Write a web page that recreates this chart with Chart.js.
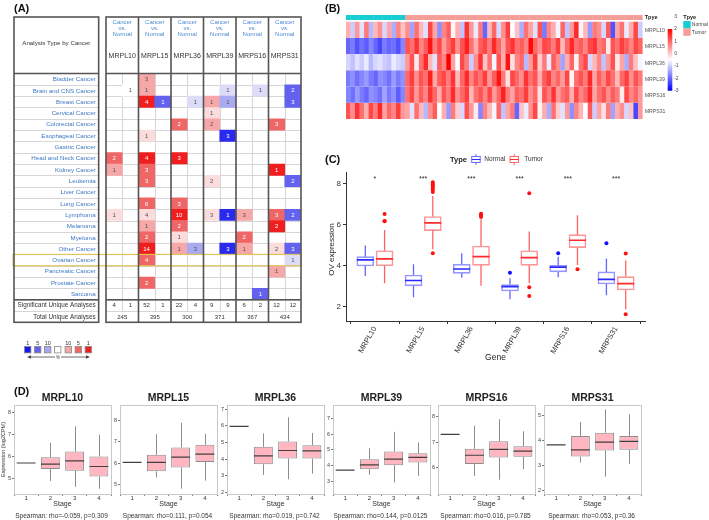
<!DOCTYPE html>
<html><head><meta charset="utf-8">
<script src="https://cdn.jsdelivr.net/npm/chart.js@4/dist/chart.umd.min.js"></script>
<style>
html,body{margin:0;padding:0;background:#fff;}
body{width:709px;height:520px;position:relative;overflow:hidden;font-family:"Liberation Sans",Arial,sans-serif;}
canvas{position:absolute;}
.lbl{position:absolute;font-weight:bold;font-size:11px;color:#111;line-height:11px;z-index:5;}
</style></head><body>
<canvas id="cA" width="340" height="372" style="left:0;top:0"></canvas>
<canvas id="cB" width="369" height="150" style="left:340px;top:0"></canvas>
<canvas id="cC" width="340" height="220" style="left:320px;top:150px"></canvas>
<canvas id="d0" width="114" height="132" style="left:0;top:388px"></canvas>
<canvas id="d1" width="114" height="132" style="left:106px;top:388px"></canvas>
<canvas id="d2" width="114" height="132" style="left:213px;top:388px"></canvas>
<canvas id="d3" width="114" height="132" style="left:319px;top:388px"></canvas>
<canvas id="d4" width="114" height="132" style="left:424px;top:388px"></canvas>
<canvas id="d5" width="114" height="132" style="left:530px;top:388px"></canvas>
<div class="lbl" style="left:14px;top:3px">(A)</div>
<div class="lbl" style="left:325px;top:3px">(B)</div>
<div class="lbl" style="left:325px;top:154px">(C)</div>
<div class="lbl" style="left:14px;top:386px">(D)</div>
<script>
// ================= DATA =================
// ---- Panel A (Oncomine summary) ----
const cancers = ['Bladder Cancer','Brain and CNS Cancer','Breast Cancer','Cervical Cancer','Colorectal Cancer','Esophageal Cancer','Gastric Cancer','Head and Neck Cancer','Kidney Cancer','Leukemia','Liver Cancer','Lung Cancer','Lymphoma','Melanoma','Myeloma','Other Cancer','Ovarian Cancer','Pancreatic Cancer','Prostate Cancer','Sarcoma'];
const genes = ['MRPL10','MRPL15','MRPL36','MRPL39','MRPS16','MRPS31'];
const mrpl10Up     = [0,0,0,0,0,0,0,2,1,0,0,0,1,0,0,0,0,0,0,0];
const mrpl10UpLv   = [0,0,0,0,0,0,0,3,2,0,0,0,1,0,0,0,0,0,0,0];
const mrpl10Down   = [0,1,0,0,0,0,0,0,0,0,0,0,0,0,0,0,0,0,0,0];
const mrpl10DownLv = [0,0,0,0,0,0,0,0,0,0,0,0,0,0,0,0,0,0,0,0];
const mrpl15Up     = [3,1,4,0,0,1,0,4,3,3,0,6,4,1,2,14,4,0,2,0];
const mrpl15UpLv   = [2,2,4,0,0,1,0,4,3,3,0,3,1,2,3,4,3,0,3,0];
const mrpl15Down   = [0,0,1,0,0,0,0,0,0,0,0,0,0,0,0,0,0,0,0,0];
const mrpl15DownLv = [0,0,3,0,0,0,0,0,0,0,0,0,0,0,0,0,0,0,0,0];
const mrpl36Up     = [0,0,0,0,2,0,0,3,0,0,0,3,10,2,1,1,0,0,0,0];
const mrpl36UpLv   = [0,0,0,0,3,0,0,4,0,0,0,3,4,3,1,2,0,0,0,0];
const mrpl36Down   = [0,0,1,0,0,0,0,0,0,0,0,0,0,0,0,3,0,0,0,0];
const mrpl36DownLv = [0,0,1,0,0,0,0,0,0,0,0,0,0,0,0,2,0,0,0,0];
const mrpl39Up     = [0,0,1,1,2,0,0,0,0,2,0,0,3,0,0,0,0,0,0,0];
const mrpl39UpLv   = [0,0,2,1,2,0,0,0,0,1,0,0,1,0,0,0,0,0,0,0];
const mrpl39Down   = [0,1,1,0,0,3,0,0,0,0,0,0,1,0,0,3,0,0,0,0];
const mrpl39DownLv = [0,1,2,0,0,4,0,0,0,0,0,0,4,0,0,4,0,0,0,0];
const mrps16Up     = [0,0,0,0,0,0,0,0,0,0,0,0,3,0,2,1,0,0,0,0];
const mrps16UpLv   = [0,0,0,0,0,0,0,0,0,0,0,0,2,0,3,2,0,0,0,0];
const mrps16Down   = [0,1,0,0,0,0,0,0,0,0,0,0,0,0,0,0,0,0,0,1];
const mrps16DownLv = [0,1,0,0,0,0,0,0,0,0,0,0,0,0,0,0,0,0,0,3];
const mrps31Up     = [0,0,0,0,3,0,0,0,1,0,0,0,3,2,0,2,0,1,0,0];
const mrps31UpLv   = [0,0,0,0,3,0,0,0,4,0,0,0,3,4,0,1,0,2,0,0];
const mrps31Down   = [0,2,3,0,0,0,0,0,0,2,0,0,2,0,0,3,1,0,0,0];
const mrps31DownLv = [0,3,3,0,0,0,0,0,0,3,0,0,3,0,0,3,1,0,0,0];
const sigUnique   = [4,1,52,1,22,4,9,9,6,2,12,12];
const totalUnique = [245,395,300,371,367,434];
const highlightCancer = 'Ovarian Cancer';

// ---- Panel B (heatmap, z-scores) ----
const hmGenes = ['MRPL10','MRPL15','MRPL36','MRPL39','MRPS16','MRPS31'];
const hmMRPL10Normal = [0.3,-1.0,0.5,-0.8,0.8,-1.2,0.2,0.6,-0.9,0.4,-1.3,0.7,0.1];
const hmMRPL10Tumor  = [0.6,-1.4,0.9,0.2,-0.8,1.3,0.4,-1.6,0.7,1.1,-0.4,0.3,-1.1,1.5,0.5,-0.7,0.8,-2.0,0.2,1.0,-0.9,0.6,1.4,-0.5,0.1,-1.3,0.9,0.4,-0.8,1.2,-1.8,0.7,0.3,-0.6,1.0,-1.1,0.5,1.6,-0.4,0.2,-1.5,0.8,0.6,-0.9,1.1,-2.2,0.4,0.9,-0.7,0.3,1.3,-1.0];
const hmMRPL15Normal = [-2.0,-1.8,-2.2,-1.9,-2.1,-1.7,-2.0,-2.3,-1.8,-2.0,-1.9,-2.2,-1.7];
const hmMRPL15Tumor  = [1.2,0.9,1.5,0.7,1.1,1.8,0.8,1.3,0.5,1.0,1.4,0.6,1.2,1.7,0.9,0.3,1.1,1.3,0.8,1.6,1.0,0.4,1.2,1.5,0.9,1.1,0.7,1.9,1.0,0.6,1.3,1.2,0.8,1.4,0.2,1.0,1.6,0.9,1.1,0.7,1.3,1.5,0.8,1.0,-0.3,1.2,0.9,1.4,1.1,0.7,1.3,1.0];
const hmMRPL36Normal = [-0.9,-1.1,-0.8,-1.0,-0.7,-1.2,-0.9,-0.8,-1.0,-1.1,-0.7,-0.9,-1.0];
const hmMRPL36Tumor  = [0.5,1.2,-0.3,0.9,1.6,0.2,-0.8,1.1,0.7,2.0,0.4,-0.5,1.3,0.8,-1.0,0.6,1.5,0.1,0.9,-0.6,1.2,0.3,1.8,-0.2,0.7,1.0,-1.2,0.5,1.4,0.0,0.8,-0.7,1.1,0.6,-1.4,0.3,1.0,-0.4,0.9,1.3,-0.9,0.2,0.7,-1.1,0.5,1.2,-0.3,0.4,-1.3,0.8,0.1,-0.6];
const hmMRPL39Normal = [-1.8,-1.6,-1.9,-1.7,-1.5,-1.8,-2.0,-1.6,-1.7,-1.9,-1.5,-1.8,-1.6];
const hmMRPL39Tumor  = [1.0,1.4,0.6,1.2,0.9,1.7,0.4,1.1,1.3,0.8,1.5,0.2,1.0,1.6,0.7,1.2,0.9,1.4,0.5,1.1,1.8,0.8,-0.2,1.3,1.0,0.6,1.5,0.9,1.2,0.3,1.1,1.4,0.7,1.0,0.5,1.3,-0.4,0.9,1.2,0.8,1.6,0.4,1.1,0.7,1.3,0.9,0.2,1.0,1.4,0.6,1.2,0.8];
const hmMRPS16Normal = [-1.7,-1.9,-1.5,-1.8,-2.0,-1.6,-1.7,-1.9,-1.4,-1.8,-1.6,-2.1,-1.7];
const hmMRPS16Tumor  = [0.9,1.3,0.5,1.1,0.7,1.5,1.0,0.3,1.2,0.8,1.6,0.6,1.0,1.4,0.2,0.9,1.2,0.7,1.3,0.5,1.0,1.7,0.8,0.4,1.1,0.9,1.4,0.6,1.0,-0.2,1.2,0.8,1.5,0.5,0.9,1.1,0.3,1.3,0.7,1.0,1.6,0.4,0.9,1.2,0.6,1.1,0.8,-0.3,1.3,0.7,1.0,0.5];
const hmMRPS31Normal = [1.2,0.6,1.5,0.9,0.3,1.3,0.8,1.6,0.4,1.0,0.7,1.4,0.5];
const hmMRPS31Tumor  = [0.4,-0.8,0.9,0.2,-1.2,0.6,1.1,-0.5,0.3,-1.5,0.8,0.0,-0.9,1.2,0.5,-0.3,-1.7,0.7,0.2,-0.6,1.0,-1.1,0.4,0.8,-2.0,0.1,-0.7,0.6,1.3,-0.4,0.3,-1.3,0.9,0.0,-0.8,0.5,-1.6,0.7,0.2,-0.5,1.1,-1.0,0.4,-0.2,0.8,-1.4,0.3,0.6,-0.9,0.1,-2.3,0.5];
const hmScaleTicks = [3,2,1,0,-1,-2,-3];

// ---- Panel C (tumor vs normal boxplots) ----
const cNormLo  = [3.49,2.46,3.41,2.36,3.43,2.55];
const cNormQ1  = [3.98,3.01,3.62,2.76,3.69,3.10];
const cNormMed = [4.27,3.27,3.83,2.97,3.92,3.33];
const cNormQ3  = [4.43,3.54,4.06,3.07,4.01,3.69];
const cNormHi  = [4.97,4.06,4.60,3.38,4.43,4.34];
const cNormOutGene = [4,5,6];
const cNormOutVal  = [3.65,4.60,5.08];
const cTumLo  = [3.14,4.79,3.01,3.14,4.03,1.87];
const cTumQ1  = [3.99,5.70,4.01,4.01,4.87,2.81];
const cTumMed = [4.32,6.07,4.43,4.38,5.23,3.12];
const cTumQ3  = [4.72,6.38,4.95,4.72,5.50,3.46];
const cTumHi  = [5.73,7.38,6.25,5.65,6.44,4.24];
const cTumOutGene = [1,1,1,2,2,2,2,2,2,2,3,3,3,3,4,4,4,5,6,6];
const cTumOutVal  = [6.51,6.17,6.15,8.05,7.95,7.88,7.79,7.70,7.58,4.60,6.52,6.47,6.42,6.36,7.51,2.94,2.52,3.82,4.58,1.63];
const cSignif = ['*','***','***','***','***','***'];
const cYTicks = [2,4,6,8];

// ---- Panel D (expression by stage) ----
const stageLabels = ['1','2','3','4'];
const mrpl10Lo=[5.70,4.88,4.61,4.52], mrpl10Q1=[5.70,5.43,5.35,5.08], mrpl10Med=[5.70,5.65,5.80,5.54], mrpl10Q3=[5.70,5.97,6.23,6.00], mrpl10Hi=[5.70,6.62,7.38,7.00];
const mrpl15Lo=[6.03,5.32,4.79,5.17], mrpl15Q1=[6.03,5.61,5.79,6.05], mrpl15Med=[6.03,6.03,6.28,6.42], mrpl15Q3=[6.03,6.39,6.73,6.86], mrpl15Hi=[6.03,7.36,7.90,7.38];
const mrpl36Lo=[5.96,3.06,2.80,3.14], mrpl36Q1=[5.96,3.70,4.04,4.04], mrpl36Med=[5.96,4.20,4.52,4.50], mrpl36Q3=[5.96,4.74,5.06,4.84], mrpl36Hi=[5.96,5.54,6.50,5.56];
const mrpl39Lo=[3.73,3.43,2.95,3.37], mrpl39Q1=[3.73,3.79,4.04,4.21], mrpl39Med=[3.73,4.06,4.42,4.53], mrpl39Q3=[3.73,4.42,4.90,4.80], mrpl39Hi=[3.73,5.11,6.14,5.47];
const mrps16Lo=[7.31,5.68,5.53,5.94], mrps16Q1=[7.31,6.15,6.40,6.43], mrps16Med=[7.31,6.49,6.72,6.65], mrps16Q3=[7.31,6.74,7.04,6.84], mrps16Hi=[7.31,7.65,7.90,7.43];
const mrps31Lo=[3.82,3.11,2.54,3.05], mrps31Q1=[3.82,3.35,3.59,3.62], mrps31Med=[3.82,3.62,3.93,3.96], mrps31Q3=[3.82,4.18,4.31,4.18], mrps31Hi=[3.82,4.75,5.25,5.05];
const spearmanRho = ['-0.059','0.111','0.019','0.144','0.016','0.053'];
const spearmanP   = ['0.309','0.054','0.742','0.0125','0.785','0.36'];
const dYMin = [4.28,4.54,1.92,2.22,4.97,1.84];
const dYMax = [8.36,8.74,7.24,7.84,8.46,5.43];
const dYTicks = [[5,6,7,8],[5,6,7,8],[2,3,4,5,6,7],[3,4,5,6,7],[6,7,8],[2,3,4,5]];

// ================= SETUP =================
const FONT = '"Liberation Sans", Arial, sans-serif';
Chart.defaults.font.family = FONT;
Chart.defaults.animation = false;
Chart.defaults.responsive = false;
Chart.defaults.plugins.legend.display = false;
Chart.defaults.plugins.tooltip.enabled = false;
const f = (s, w) => (w ? w + ' ' : '') + s + 'px ' + FONT;

// ================= PANEL A =================
(function(){
  const upArr = [mrpl10Up,mrpl15Up,mrpl36Up,mrpl39Up,mrps16Up,mrps31Up];
  const upLv = [mrpl10UpLv,mrpl15UpLv,mrpl36UpLv,mrpl39UpLv,mrps16UpLv,mrps31UpLv];
  const dnArr = [mrpl10Down,mrpl15Down,mrpl36Down,mrpl39Down,mrps16Down,mrps31Down];
  const dnLv = [mrpl10DownLv,mrpl15DownLv,mrpl36DownLv,mrpl39DownLv,mrps16DownLv,mrps31DownLv];
  const redLv = ['#ffffff','#fbdcdc','#f6a8a8','#ef6666','#f01e1e'];
  const blueLv = ['#ffffff','#dcdcf8','#aaaaf1','#6262ee','#2a2aef'];
  const headRows = ['h0','h1','h2','h3','h4'];
  const rowLabels = headRows.concat(cancers, ['Significant Unique Analyses','Total Unique Analyses']);
  const cells = [];
  genes.forEach((g, gi) => {
    [upArr[gi], dnArr[gi]].forEach((arr, side) => {
      const lv = side ? dnLv[gi] : upLv[gi];
      arr.forEach((n, r) => { if (n > 0) cells.push({x:[2*gi+side, 2*gi+side+1], y:cancers[r], n, lv:lv[r], side}); });
    });
  });
  const XMIN = -5.66, GAP = -0.45;
  const tbl = {
    id:'tbl',
    beforeDatasetsDraw(chart){
      const {ctx} = chart, xs = chart.scales.x, ys = chart.scales.y;
      const rh = ys.getPixelForValue(1) - ys.getPixelForValue(0);
      const top = i => ys.getPixelForValue(i) - rh/2;
      const L0 = xs.getPixelForValue(XMIN), L1 = xs.getPixelForValue(GAP), R0 = xs.getPixelForValue(0), R1 = xs.getPixelForValue(12);
      ctx.save(); ctx.strokeStyle = '#d6d6d6'; ctx.lineWidth = 1;
      ctx.beginPath();
      for (let i = 6; i <= 26; i++){ const y = Math.round(top(i)) + 0.5; ctx.moveTo(L0,y); ctx.lineTo(L1,y); ctx.moveTo(R0,y); ctx.lineTo(R1,y); }
      for (let c = 1; c < 12; c += 2){ const x = Math.round(xs.getPixelForValue(c)) + 0.5; ctx.moveTo(x, top(5)); ctx.lineTo(x, top(26)); }
      ctx.stroke(); ctx.restore();
    },
    afterDatasetsDraw(chart){
      const {ctx} = chart, xs = chart.scales.x, ys = chart.scales.y;
      const rh = ys.getPixelForValue(1) - ys.getPixelForValue(0);
      const top = i => ys.getPixelForValue(i) - rh/2;
      const cy = i => ys.getPixelForValue(i);
      const L0 = xs.getPixelForValue(XMIN), L1 = xs.getPixelForValue(GAP), R0 = xs.getPixelForValue(0), R1 = xs.getPixelForValue(12);
      ctx.save();
      const hr = rowLabels.indexOf(highlightCancer);
      ctx.strokeStyle = '#e2c35a'; ctx.lineWidth = 1.2;
      ctx.strokeRect(L0 - 1, top(hr), R1 - L0 + 1, rh);
      ctx.strokeStyle = '#555'; ctx.lineWidth = 1.6;
      ctx.strokeRect(L0, top(0), L1 - L0, top(27) - top(0));
      ctx.strokeRect(R0, top(0), R1 - R0, top(27) - top(0));
      ctx.beginPath();
      [5, 25].forEach(i => { const y = top(i); ctx.moveTo(L0,y); ctx.lineTo(L1,y); ctx.moveTo(R0,y); ctx.lineTo(R1,y); });
      for (let c = 2; c < 12; c += 2){ const x = xs.getPixelForValue(c); ctx.moveTo(x, top(0)); ctx.lineTo(x, top(27)); }
      ctx.stroke();
      ctx.textAlign = 'center'; ctx.textBaseline = 'middle';
      const t0 = top(0);
      ctx.fillStyle = '#333'; ctx.font = f(6.2);
      ctx.fillText('Analysis Type by Cancer', (L0 + L1)/2, t0 + 26);
      genes.forEach((g, gi) => {
        const x = xs.getPixelForValue(2*gi + 1);
        ctx.fillStyle = '#4a8ad0'; ctx.font = f(6);
        ctx.fillText('Cancer', x, t0 + 5.5); ctx.fillText('vs.', x, t0 + 11.2); ctx.fillText('Normal', x, t0 + 17);
        ctx.fillStyle = '#333'; ctx.font = f(7);
        ctx.fillText(g, x, t0 + 38.7);
      });
      ctx.textAlign = 'right'; ctx.font = f(6.2); ctx.fillStyle = '#3b78c4';
      cancers.forEach((c, i) => ctx.fillText(c, L1 - 3, cy(5 + i) + 0.3));
      ctx.fillStyle = '#333'; ctx.font = f(6.3);
      ctx.fillText('Significant Unique Analyses', L1 - 3, cy(25) + 0.3);
      ctx.fillText('Total Unique Analyses', L1 - 3, cy(26) + 0.3);
      ctx.textAlign = 'center'; ctx.font = f(6);
      cells.forEach(c => {
        ctx.fillStyle = c.lv >= 3 ? '#fff' : '#555';
        ctx.fillText(String(c.n), xs.getPixelForValue(c.x[0] + 0.5), ys.getPixelForValue(c.y) + 0.3);
      });
      ctx.fillStyle = '#333';
      sigUnique.forEach((v, i) => ctx.fillText(String(v), xs.getPixelForValue(i + 0.5), cy(25) + 0.3));
      totalUnique.forEach((v, i) => ctx.fillText(String(v), xs.getPixelForValue(2*i + 1), cy(26) + 0.3));
      const sq = [['#1a1aef',27.7,'1'],['#6262ee',37.7,'5'],['#a6a6f1',47.7,'10'],['#ffffff',57.7,''],['#f6a8a8',68.3,'10'],['#ef6666',78.3,'5'],['#f01e1e',88.3,'1']];
      ctx.font = f(5.5);
      sq.forEach(s => {
        if (s[2]) { ctx.fillStyle = '#333'; ctx.fillText(s[2], s[1], 343.5); }
        ctx.fillStyle = s[0]; ctx.fillRect(s[1] - 3.2, 346.5, 6.4, 6.4);
        ctx.strokeStyle = '#888'; ctx.lineWidth = 0.8; ctx.strokeRect(s[1] - 3.2, 346.5, 6.4, 6.4);
      });
      ctx.strokeStyle = '#444'; ctx.fillStyle = '#444'; ctx.lineWidth = 0.8;
      ctx.beginPath(); ctx.moveTo(55, 357); ctx.lineTo(29, 357); ctx.moveTo(61, 357); ctx.lineTo(88, 357); ctx.stroke();
      ctx.beginPath(); ctx.moveTo(27, 357); ctx.lineTo(31, 355.3); ctx.lineTo(31, 358.7); ctx.closePath(); ctx.fill();
      ctx.beginPath(); ctx.moveTo(90, 357); ctx.lineTo(86, 355.3); ctx.lineTo(86, 358.7); ctx.closePath(); ctx.fill();
      ctx.font = f(4.5); ctx.fillText('%', 58, 357.5);
      ctx.restore();
    }
  };
  new Chart(document.getElementById('cA'), {
    type:'bar',
    data:{ labels: rowLabels, datasets:[{ data: cells, backgroundColor: c => (c.raw && c.raw.side ? blueLv : redLv)[c.raw ? c.raw.lv : 0], borderWidth:0, barPercentage:1, categoryPercentage:1 }] },
    options:{ devicePixelRatio:1, indexAxis:'y', layout:{padding:{left:14, top:17, right:39, bottom:49.7}},
      scales:{ y:{type:'category', labels: rowLabels, display:false, offset:true}, x:{type:'linear', min:XMIN, max:12, display:false} } },
    plugins:[tbl]
  });
})();

// ================= PANEL B =================
(function(){
  const normals = [hmMRPL10Normal,hmMRPL15Normal,hmMRPL36Normal,hmMRPL39Normal,hmMRPS16Normal,hmMRPS31Normal];
  const tumors = [hmMRPL10Tumor,hmMRPL15Tumor,hmMRPL36Tumor,hmMRPL39Tumor,hmMRPS16Tumor,hmMRPS31Tumor];
  const rows = normals.map((n, i) => n.concat(tumors[i]));
  const types = normals[0].map(() => 'Normal').concat(tumors[0].map(() => 'Tumor'));
  const labels = types.map((t, i) => t + (i + 1));
  const W = -0.5;
  const heatColor = v => {
    if (v >= W) { const t = Math.min(1, (v - W)/2.5); const c = Math.round(255*(1 - t)); return `rgb(255,${c},${c})`; }
    const t = Math.min(1, (W - v)/2.5); const c = Math.round(255*(1 - t)); return `rgb(${c},${c},255)`;
  };
  const typeColor = {Normal:'#17cdd5', Tumor:'#f59e98'};
  const datasets = rows.map((vals, k) => ({ data: vals.map(() => [5 - k, 6 - k]), backgroundColor: vals.map(heatColor) }));
  datasets.push({ data: types.map(() => [6.1, 6.41]), backgroundColor: types.map(t => typeColor[t]) });
  const deco = {
    id:'hmdeco',
    afterDatasetsDraw(chart){
      const {ctx} = chart, ys = chart.scales.y, a = chart.chartArea;
      ctx.save();
      ctx.textAlign = 'left'; ctx.textBaseline = 'middle';
      ctx.font = f(5.5, 'bold'); ctx.fillStyle = '#222';
      ctx.fillText('Tpye', a.right + 2, ys.getPixelForValue(6.25));
      ctx.font = f(5.2); ctx.fillStyle = '#555';
      hmGenes.forEach((g, k) => ctx.fillText(g, a.right + 2, ys.getPixelForValue(5.5 - k) + 1));
      const bx = a.right + 25, bt = 29, bb = 90.7;
      const gr = ctx.createLinearGradient(0, bt, 0, bb);
      for (let i = 0; i <= 20; i++){ const v = 2 - 5*i/20; gr.addColorStop(i/20, heatColor(v)); }
      ctx.fillStyle = gr; ctx.fillRect(bx, bt, 4.6, bb - bt);
      ctx.fillStyle = '#444'; ctx.font = f(5);
      hmScaleTicks.forEach(t => ctx.fillText(String(t), bx + 6.5, bt + (2 - t)*(bb - bt)/5));
      const lx = a.right + 40.6;
      ctx.font = f(5.5, 'bold'); ctx.fillStyle = '#222'; ctx.fillText('Tpye', lx, 17.3);
      ctx.fillStyle = typeColor.Normal; ctx.fillRect(lx, 21, 7.4, 7.4);
      ctx.fillStyle = typeColor.Tumor; ctx.fillRect(lx, 28.4, 7.4, 7.4);
      ctx.font = f(5); ctx.fillStyle = '#444';
      ctx.fillText('Normal', lx + 8.5, 24.8); ctx.fillText('Tumor', lx + 8.5, 32.2);
      ctx.restore();
    }
  };
  new Chart(document.getElementById('cB'), {
    type:'bar',
    data:{ labels, datasets },
    options:{ devicePixelRatio:1, layout:{padding:{left:6, top:15, right:66.3, bottom:31}},
      datasets:{ bar:{ grouped:false, barPercentage:1.08, categoryPercentage:1, borderWidth:0 } },
      scales:{ x:{type:'category', display:false, offset:true}, y:{type:'linear', min:0, max:6.41, display:false} } },
    plugins:[deco]
  });
})();

// ================= PANEL C =================
(function(){
  const DX = 0.2;
  const nBox = genes.map((g, i) => ({x: i + 1 - DX, y: [cNormQ1[i], cNormQ3[i]]}));
  const tBox = genes.map((g, i) => ({x: i + 1 + DX, y: [cTumQ1[i], cTumQ3[i]]}));
  const sets = [
    {lo:cNormLo, q1:cNormQ1, med:cNormMed, q3:cNormQ3, hi:cNormHi, wc:'rgba(50,50,255,0.75)', mc:'#2a2aff'},
    {lo:cTumLo, q1:cTumQ1, med:cTumMed, q3:cTumQ3, hi:cTumHi, wc:'rgba(255,45,45,0.75)', mc:'#ff2a2a'}
  ];
  const boxDeco = {
    id:'boxc',
    beforeDatasetsDraw(chart){
      const {ctx} = chart, ys = chart.scales.y;
      ctx.save(); ctx.lineWidth = 1.3;
      sets.forEach((s, d) => {
        const meta = chart.getDatasetMeta(d);
        ctx.strokeStyle = s.wc; ctx.beginPath();
        meta.data.forEach((el, i) => {
          ctx.moveTo(el.x, ys.getPixelForValue(s.lo[i])); ctx.lineTo(el.x, ys.getPixelForValue(s.q1[i]));
          ctx.moveTo(el.x, ys.getPixelForValue(s.q3[i])); ctx.lineTo(el.x, ys.getPixelForValue(s.hi[i]));
        });
        ctx.stroke();
      });
      ctx.restore();
    },
    afterDatasetsDraw(chart){
      const {ctx} = chart, xs = chart.scales.x, ys = chart.scales.y, a = chart.chartArea;
      ctx.save(); ctx.lineWidth = 1.7;
      sets.forEach((s, d) => {
        const meta = chart.getDatasetMeta(d);
        ctx.strokeStyle = s.mc; ctx.beginPath();
        meta.data.forEach((el, i) => { const y = ys.getPixelForValue(s.med[i]); ctx.moveTo(el.x - el.width/2, y); ctx.lineTo(el.x + el.width/2, y); });
        ctx.stroke();
      });
      ctx.fillStyle = '#222'; ctx.textAlign = 'center'; ctx.textBaseline = 'middle'; ctx.font = f(7);
      cSignif.forEach((s, i) => ctx.fillText(s, xs.getPixelForValue(i + 1), 28.6));
      ctx.font = f(8.5); ctx.fillText('Gene', (a.left + a.right)/2, 208);
      ctx.save(); ctx.translate(11.7, (a.top + a.bottom)/2 + 3); ctx.rotate(-Math.PI/2); ctx.font = f(8); ctx.fillText('OV expression', 0, 0); ctx.restore();
      ctx.textAlign = 'left'; ctx.font = f(7.5, 'bold'); ctx.fillText('Type', 130, 9.5);
      const glyph = (x, col, mcol) => {
        ctx.strokeStyle = col; ctx.lineWidth = 1;
        ctx.strokeRect(x, 6.5, 8.5, 6);
        ctx.beginPath(); ctx.moveTo(x + 4.25, 4); ctx.lineTo(x + 4.25, 6.5); ctx.moveTo(x + 4.25, 12.5); ctx.lineTo(x + 4.25, 15); ctx.stroke();
        ctx.strokeStyle = mcol; ctx.beginPath(); ctx.moveTo(x, 9.5); ctx.lineTo(x + 8.5, 9.5); ctx.stroke();
      };
      glyph(151.7, 'rgba(70,70,255,0.8)', '#2a2aff');
      glyph(190, 'rgba(255,70,70,0.8)', '#ff2a2a');
      ctx.fillStyle = '#333'; ctx.font = f(6.5);
      ctx.fillText('Normal', 164.3, 9.7); ctx.fillText('Tumor', 204.3, 9.7);
      ctx.restore();
    }
  };
  new Chart(document.getElementById('cC'), {
    type:'bar',
    data:{ datasets:[
      { data:nBox, backgroundColor:'#ffffff', borderColor:'rgba(80,80,255,0.6)', borderWidth:1.6, borderSkipped:false, barThickness:17, grouped:false },
      { data:tBox, backgroundColor:'#ffffff', borderColor:'rgba(255,80,80,0.6)', borderWidth:1.6, borderSkipped:false, barThickness:17, grouped:false },
      { type:'scatter', data: cNormOutGene.map((g, i) => ({x: g - DX, y: cNormOutVal[i]})), backgroundColor:'#1010ff', borderWidth:0, pointRadius:2 },
      { type:'scatter', data: cTumOutGene.map((g, i) => ({x: g + DX, y: cTumOutVal[i]})), backgroundColor:'#ff1010', borderWidth:0, pointRadius:2 }
    ]},
    options:{ devicePixelRatio:1, layout:{padding:{left:0, top:22, right:15, bottom:0}},
      scales:{
        x:{ type:'linear', min:0.4, max:6.6, offset:false,
            afterBuildTicks: s => { s.ticks = genes.map((g, i) => ({value: i + 1})); },
            ticks:{ autoSkip:false, minRotation:60, maxRotation:60, font:{size:7.5}, color:'#333', padding:1, callback: v => genes[v - 1] },
            grid:{ display:true, drawOnChartArea:false, drawTicks:true, tickLength:3, color:'#333' },
            border:{ display:true, color:'#333', width:1 },
            afterFit: s => { s.height = 49; } },
        y:{ type:'linear', min:1.3, max:8.55,
            afterBuildTicks: s => { s.ticks = cYTicks.map(v => ({value:v})); },
            ticks:{ font:{size:8}, color:'#333', padding:2 },
            grid:{ display:true, drawOnChartArea:false, drawTicks:true, tickLength:3, color:'#333' },
            border:{ display:true, color:'#333', width:1 },
            afterFit: s => { s.width = 26; } }
      } },
    plugins:[boxDeco]
  });
})();

// ================= PANEL D =================
(function(){
  const stats = [
    [mrpl10Lo,mrpl10Q1,mrpl10Med,mrpl10Q3,mrpl10Hi],
    [mrpl15Lo,mrpl15Q1,mrpl15Med,mrpl15Q3,mrpl15Hi],
    [mrpl36Lo,mrpl36Q1,mrpl36Med,mrpl36Q3,mrpl36Hi],
    [mrpl39Lo,mrpl39Q1,mrpl39Med,mrpl39Q3,mrpl39Hi],
    [mrps16Lo,mrps16Q1,mrps16Med,mrps16Q3,mrps16Hi],
    [mrps31Lo,mrps31Q1,mrps31Med,mrps31Q3,mrps31Hi]
  ];
  genes.forEach((g, gi) => {
    const [lo, q1, med, q3, hi] = stats[gi];
    const deco = {
      id:'dd' + gi,
      beforeDatasetsDraw(chart){
        const {ctx} = chart, ys = chart.scales.y, meta = chart.getDatasetMeta(0);
        ctx.save(); ctx.strokeStyle = '#8c8c8c'; ctx.lineWidth = 1; ctx.beginPath();
        meta.data.forEach((el, i) => {
          const x = Math.round(el.x) + 0.5;
          ctx.moveTo(x, ys.getPixelForValue(lo[i])); ctx.lineTo(x, ys.getPixelForValue(q1[i]));
          ctx.moveTo(x, ys.getPixelForValue(q3[i])); ctx.lineTo(x, ys.getPixelForValue(hi[i]));
        });
        ctx.stroke(); ctx.restore();
      },
      afterDatasetsDraw(chart){
        const {ctx} = chart, ys = chart.scales.y, a = chart.chartArea, meta = chart.getDatasetMeta(0);
        ctx.save();
        ctx.strokeStyle = '#404040'; ctx.lineWidth = 1.2; ctx.beginPath();
        meta.data.forEach((el, i) => { const y = ys.getPixelForValue(med[i]); ctx.moveTo(el.x - el.width/2, y); ctx.lineTo(el.x + el.width/2, y); });
        ctx.stroke();
        ctx.strokeStyle = '#c8c8c8'; ctx.lineWidth = 1;
        ctx.strokeRect(Math.round(a.left) + 0.5, Math.round(a.top) + 0.5, Math.round(a.right - a.left), Math.round(a.bottom - a.top));
        const cx = (a.left + a.right)/2;
        ctx.textAlign = 'center'; ctx.textBaseline = 'middle'; ctx.fillStyle = '#222';
        ctx.font = f(10.5, 'bold'); ctx.fillText(g, cx, 10.3);
        ctx.font = f(7); ctx.fillStyle = '#333'; ctx.fillText('Stage', cx, 116.5);
        ctx.font = f(6.5); ctx.fillText('Spearman: rho=' + spearmanRho[gi] + ', p=' + spearmanP[gi], cx - 1, 128);
        if (gi === 0) {
          ctx.save(); ctx.translate(3.2, (a.top + a.bottom)/2); ctx.rotate(-Math.PI/2);
          ctx.font = f(5.5); ctx.fillText('Expression (log2CPM)', 0, 0); ctx.restore();
        }
        ctx.restore();
      }
    };
    new Chart(document.getElementById('d' + gi), {
      type:'bar',
      data:{ labels: stageLabels, datasets:[{ data: q1.map((v, i) => [v, q3[i]]), backgroundColor:'#ffb6c1', borderColor:'#8c8c8c', borderWidth:1, borderSkipped:false, categoryPercentage:0.78, barPercentage:1 }] },
      options:{ devicePixelRatio:1, layout:{padding:{left:0, top:17, right:3, bottom:0}},
        scales:{
          x:{ grid:{display:true, drawOnChartArea:false, drawTicks:true, tickLength:2, color:'#777'}, border:{display:false},
              ticks:{font:{size:6}, color:'#333', padding:-1}, afterFit: s => { s.height = 26; } },
          y:{ min:dYMin[gi], max:dYMax[gi], afterBuildTicks: s => { s.ticks = dYTicks[gi].map(v => ({value:v})); },
              grid:{display:true, drawOnChartArea:false, drawTicks:true, tickLength:2, color:'#777'}, border:{display:false},
              ticks:{font:{size:5.5}, color:'#444', padding:1}, afterFit: s => { s.width = 14; } }
        } },
      plugins:[deco]
    });
  });
})();
</script>
</body></html>
